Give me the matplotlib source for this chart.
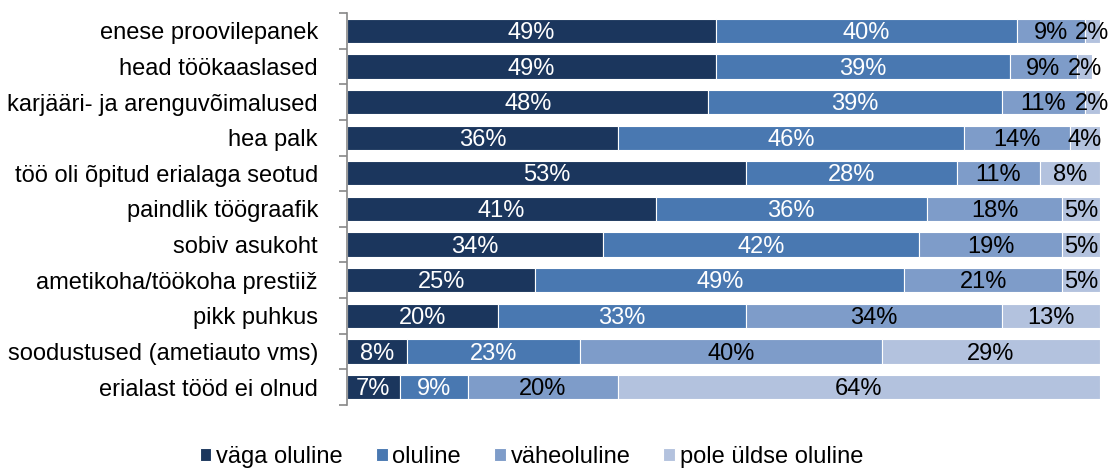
import numpy as np
import matplotlib.pyplot as plt
from matplotlib.ticker import FixedLocator

plt.rcParams['font.family'] = ['Liberation Sans', 'DejaVu Sans']

categories = ["enese proovilepanek", "head töökaaslased", "karjääri- ja arenguvõimalused",
              "hea palk", "töö oli õpitud erialaga seotud", "paindlik töögraafik",
              "sobiv asukoht", "ametikoha/töökoha prestiiž", "pikk puhkus",
              "soodustused (ametiauto vms)", "erialast tööd ei olnud"]
series = ["väga oluline", "oluline", "väheoluline", "pole üldse oluline"]
vaga = [49, 49, 48, 36, 53, 41, 34, 25, 20, 8, 7]
oluline = [40, 39, 39, 46, 28, 36, 42, 49, 33, 23, 9]
vahe = [9, 9, 11, 14, 11, 18, 19, 21, 34, 40, 20]
pole = [2, 2, 2, 4, 8, 5, 5, 5, 13, 29, 64]

colors = ["#1B365D", "#4978B1", "#7E9CC9", "#B3C2DE"]
text_colors = ["white", "white", "black", "black"]

fig = plt.figure(figsize=(11.17, 4.68), dpi=100)
ax = fig.add_axes([0.3107, 0.135, 0.674, 0.837])

y = np.arange(len(categories))
left = np.zeros(len(categories))
for vals, name, col, tcol in zip([vaga, oluline, vahe, pole], series, colors, text_colors):
    vals = np.array(vals, dtype=float)
    ax.barh(y, vals, left=left, height=0.68, color=col, edgecolor="white",
            linewidth=0.8, label=name)
    for yi, l, v in zip(y, left, vals):
        ax.text(l + v / 2, yi + 0.06, f"{int(v)}%", ha="center", va="center",
                color=tcol, fontsize=17)
    left += vals

ax.set_xlim(0, 100)
ax.set_ylim(len(categories) - 0.5, -0.5)
ax.set_yticks(y)
ax.set_yticklabels(categories, fontsize=17)
ax.yaxis.set_minor_locator(FixedLocator(np.arange(-0.5, len(categories), 1)))
ax.tick_params(axis="y", which="major", length=0, pad=21)
ax.tick_params(axis="y", which="minor", length=6, color="#888888", width=1.2)
ax.set_xticks([])
for s in ["top", "right", "bottom"]:
    ax.spines[s].set_visible(False)
ax.spines["left"].set_color("#888888")
ax.spines["left"].set_linewidth(1.2)

ax.legend(loc="lower center", bbox_to_anchor=(0.245, -0.215), ncol=4, frameon=False,
          fontsize=17, handlelength=0.5, handleheight=0.5, handletextpad=0.2,
          columnspacing=1.4)

fig.savefig("out.png", dpi=100)
